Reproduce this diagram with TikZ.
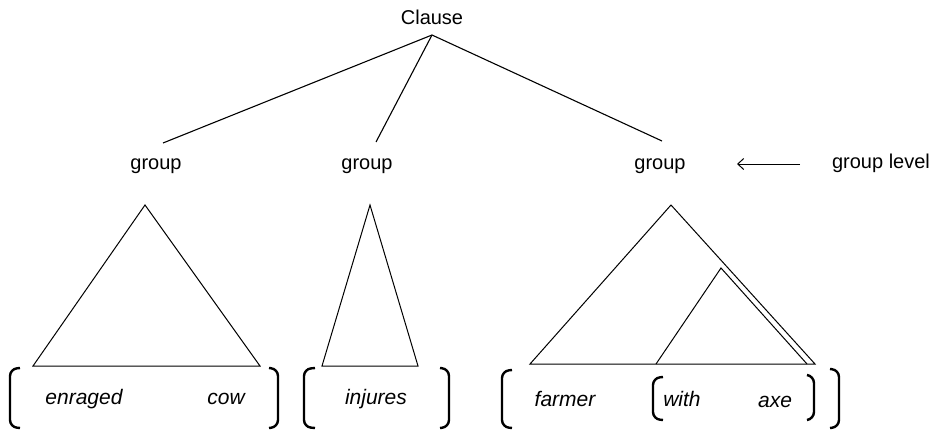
\documentclass[tikz,border=0pt]{standalone}
\usepackage{fontspec}
\setmainfont{Liberation Sans}
\usetikzlibrary{arrows.meta}
\begin{document}
\begin{tikzpicture}[x=1pt,y=-1pt,
  lbl/.style={inner sep=0pt,font=\fontsize{20}{24}\selectfont},
  word/.style={inner sep=0pt,font=\fontsize{21}{25}\selectfont\itshape},
  branch/.style={line width=1.1pt},
  tri/.style={line width=1pt},
  brk/.style={line width=2.4pt,rounded corners=7pt}]
\useasboundingbox (0,0) rectangle (939,444);
% labels
\node[lbl] (clause) at (432,17) {Clause};
\node[lbl] (g1) at (156,166) {group};
\node[lbl] (g2) at (367,166) {group};
\node[lbl] (g3) at (660,166) {group};
\node[lbl] (gl) at (881,163) {group level};
% branch ends
\coordinate (top) at (432,35);
\coordinate (e1) at (163,143);
\coordinate (e2) at (376,142);
\coordinate (e3) at (662,141);
\draw[branch] (e1) -- (top) -- (e3);
\draw[branch] (top) -- (e2);
% arrow
\coordinate (a1) at (800,164);
\coordinate (a2) at (737,164);
\draw[line width=1pt,-{Straight Barb[length=6pt,width=11pt]}] (a1) -- (a2);
% triangles
\draw[tri] (145,205) -- (260,366) -- (33,366) -- cycle;
\draw[tri] (370,205) -- (418,366) -- (322,366) -- cycle;
\draw[tri] (671,205) -- (815,364) -- (530,364) -- cycle;
\draw[tri] (656,364) -- (721,268) -- (807,364);
% words
\node[word] (w1) at (84,399) {enraged};
\node[word] (w2) at (226,399) {cow};
\node[word] (w3) at (376,399) {injures};
\node[word] (w4) at (565,399) {farmer};
\node[word] (w5) at (682,399) {with};
\node[word] (w6) at (775,402) {axe};
% brackets
\draw[brk] (20,368) -- (10,369) -- (10,427) -- (20,428);
\draw[brk] (269,368) -- (278,369) -- (278,427) -- (269,428);
\draw[brk] (315,368) -- (304,369) -- (304,427) -- (315,428);
\draw[brk] (440,368) -- (449,369) -- (449,427) -- (440,428);
\draw[brk] (512,370) -- (502,371) -- (502,427) -- (512,428);
\draw[brk] (830,369) -- (839,370) -- (839,427) -- (830,428);
\draw[brk] (663,377) -- (653,378) -- (653,419) -- (663,420);
\draw[brk] (807,375) -- (814,376) -- (814,419) -- (807,420);
\end{tikzpicture}
\end{document}
